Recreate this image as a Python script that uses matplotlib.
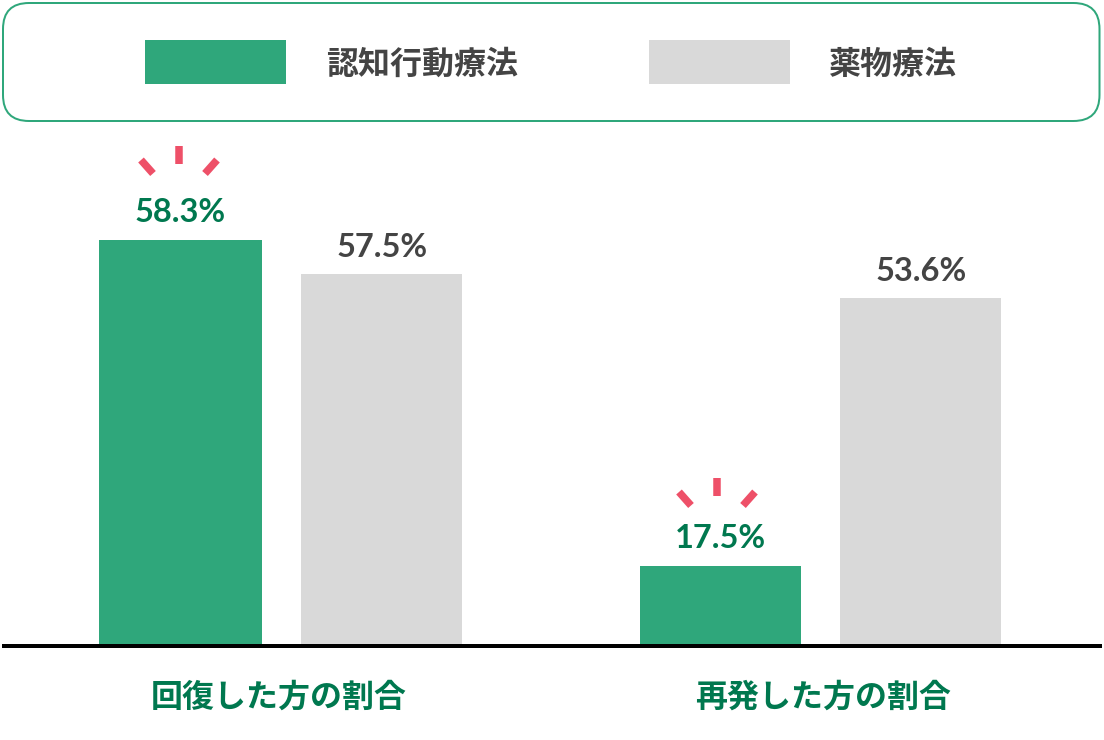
import matplotlib
matplotlib.use("Agg")
import matplotlib.pyplot as plt
from matplotlib.patches import FancyBboxPatch, Rectangle

JP = ['Noto Sans CJK JP', 'DejaVu Sans']
plt.rcParams['font.family'] = JP

# Data
categories = ['回復した方の割合', '再発した方の割合']
series_names = ['認知行動療法', '薬物療法']
cbt_labels = ['58.3%', '17.5%']
drug_labels = ['57.5%', '53.6%']
# Heights as drawn in the reference (it is not drawn to a proportional scale)
cbt_drawn = [404, 78]
drug_drawn = [370, 346]

W, H = 1104, 740
BASE = 644
GREEN = '#2fa77b'
GRAY = '#d9d9d9'
DARK_GREEN = '#00784f'
TEXT = '#444444'
RED = '#ee5068'

fig = plt.figure(figsize=(W / 100, H / 100), dpi=100, facecolor='white')

# Bars axes
ax = fig.add_axes([0, (H - BASE) / H, 1, BASE / H])
ax.set_xlim(0, W)
ax.set_ylim(0, BASE)
ax.axis('off')
cbt_x = [180, 720.5]
drug_x = [381.5, 920.5]
ax.bar(cbt_x, cbt_drawn, width=[163, 161], color=GREEN, linewidth=0)
ax.bar(drug_x, drug_drawn, width=161, color=GRAY, linewidth=0)

# Overlay in pixel coordinates
ov = fig.add_axes([0, 0, 1, 1])
ov.set_xlim(0, W)
ov.set_ylim(H, 0)
ov.axis('off')
ov.patch.set_alpha(0)

# Baseline
ov.plot([2, 1102], [646, 646], color='black', lw=4 * 72 / 100, solid_capstyle='butt')

# Legend box
ov.add_patch(FancyBboxPatch((3, 3), 1096.5, 118, boxstyle='round,pad=0,rounding_size=26',
                            fc='white', ec=GREEN, lw=2 * 72 / 100))
ov.add_patch(Rectangle((145, 40), 141, 43.5, fc=GREEN, ec='none'))
ov.add_patch(Rectangle((649, 40), 141, 43.5, fc=GRAY, ec='none'))
ov.text(326, 61, series_names[0], fontsize=23.0, fontweight='bold', color=TEXT, ha='left', va='center_baseline')
ov.text(829, 61, series_names[1], fontsize=23.0, fontweight='bold', color=TEXT, ha='left', va='center_baseline')

# Value labels
num = dict(family=['Lato', 'DejaVu Sans'], fontsize=23.5, fontweight='bold', ha='center', va='baseline')
for x, lab, h in zip(cbt_x, cbt_labels, cbt_drawn):
    ov.text(x, BASE - h - 18, lab, color=DARK_GREEN, **num)
for x, lab, h in zip(drug_x, drug_labels, drug_drawn):
    ov.text(x + 0.5, BASE - h - 17, lab, color=TEXT, **num)

# Category labels
for x, lab in zip([279, 823.5], categories):
    ov.text(x, 694, lab, fontsize=23.0, fontweight='bold', color=DARK_GREEN, ha='center', va='center_baseline')

# Emphasis sparks
for cx, top in [(179, 146), (717, 478)]:
    lw = 7.5 * 72 / 100
    ov.plot([cx, cx], [top, top + 17.5], color=RED, lw=lw, solid_capstyle='butt')
    ov.plot([cx - 38, cx - 26], [top + 14, top + 27.5], color=RED, lw=lw, solid_capstyle='butt')
    ov.plot([cx + 38, cx + 26], [top + 14, top + 27.5], color=RED, lw=lw, solid_capstyle='butt')

fig.savefig('out.png', dpi=100, facecolor='white')
